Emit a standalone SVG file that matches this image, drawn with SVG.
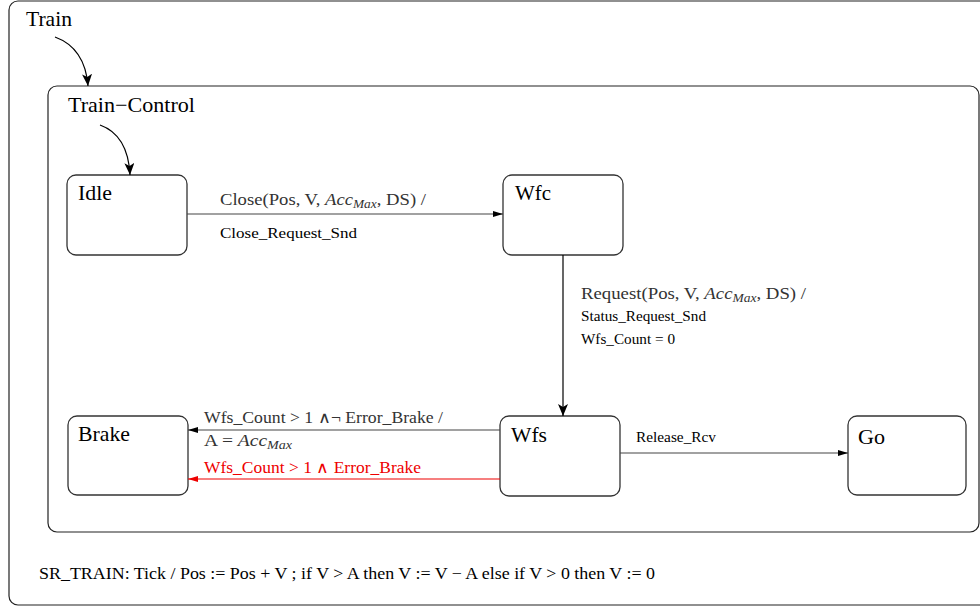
<svg xmlns="http://www.w3.org/2000/svg" width="980" height="607" viewBox="0 0 980 607">
<defs>
<marker id="ah" viewBox="0 0 10 6" refX="10" refY="3" markerWidth="10" markerHeight="6" markerUnits="userSpaceOnUse" orient="auto">
<path d="M0,0 L10,3 L0,6 Z" fill="#000"/>
</marker>
<marker id="ahr" viewBox="0 0 10 6" refX="10" refY="3" markerWidth="10" markerHeight="6" markerUnits="userSpaceOnUse" orient="auto">
<path d="M0,0 L10,3 L0,6 Z" fill="#e00"/>
</marker>
<marker id="ih" viewBox="0 0 12 10" refX="12" refY="5" markerWidth="12" markerHeight="10" markerUnits="userSpaceOnUse" orient="auto">
<path d="M0,0 L12,5 L0,10 L3,5 Z" fill="#000"/>
</marker>
</defs>
<style>
.box{fill:#fff;stroke:#222;stroke-width:1.2}
.st{fill:#fff;stroke:#333;stroke-width:1.3}
.nm{font-family:"Liberation Serif",serif;font-size:21px;fill:#000}
.lb{font-family:"Liberation Serif",serif;font-size:16px;fill:#333}
.sm{font-family:"Liberation Serif",serif;font-size:14.5px;fill:#000}
.ln{fill:none;stroke:#444;stroke-width:1.2}
.red{fill:none;stroke:#e00;stroke-width:1.2}
.ini{fill:none;stroke:#000;stroke-width:1.2}
</style>
<rect width="980" height="607" fill="#fff"/>
<g id="Train">
<rect class="box" x="9" y="1" width="985" height="604" rx="9"/>
<text class="nm" x="26" y="26" textLength="46" lengthAdjust="spacingAndGlyphs">Train</text>
<text class="lb" x="39" y="579" style="fill:#000" textLength="616" lengthAdjust="spacingAndGlyphs">SR_TRAIN: Tick / Pos := Pos + V ; if V &gt; A then V := V − A else if V &gt; 0 then V := 0</text>
</g>
<g id="Train-Control">
<rect class="box" x="48" y="86" width="931" height="446" rx="9"/>
<text class="nm" x="68" y="112" textLength="127" lengthAdjust="spacingAndGlyphs">Train−Control</text>
</g>
<g id="Idle">
<rect class="st" x="67" y="175" width="120" height="80" rx="9"/>
<text class="nm" x="78" y="200" textLength="34" lengthAdjust="spacingAndGlyphs">Idle</text>
</g>
<g id="Wfc">
<rect class="st" x="503" y="175" width="120" height="80" rx="9"/>
<text class="nm" x="515" y="200" textLength="36" lengthAdjust="spacingAndGlyphs">Wfc</text>
</g>
<g id="Wfs">
<rect class="st" x="500" y="416" width="120" height="80" rx="9"/>
<text class="nm" x="511" y="442" textLength="36" lengthAdjust="spacingAndGlyphs">Wfs</text>
</g>
<g id="Brake">
<rect class="st" x="68" y="416" width="120" height="79" rx="9"/>
<text class="nm" x="78" y="441" textLength="52" lengthAdjust="spacingAndGlyphs">Brake</text>
</g>
<g id="Go">
<rect class="st" x="848" y="416" width="118" height="79" rx="9"/>
<text class="nm" x="858" y="444" textLength="27" lengthAdjust="spacingAndGlyphs">Go</text>
</g>
<g id="connectors">
<path class="ini" d="M55,37 Q85,48 88,86" marker-end="url(#ih)"/>
<path class="ini" d="M100,125 Q128,135 130,175" marker-end="url(#ih)"/>
<line class="ln" x1="187" y1="214" x2="503" y2="214" marker-end="url(#ah)"/>
<line class="ln" x1="563" y1="255" x2="563" y2="416" marker-end="url(#ih)" style="stroke:#000"/>
<line class="ln" x1="500" y1="430" x2="188" y2="430" marker-end="url(#ah)"/>
<line class="red" x1="500" y1="479" x2="188" y2="479" marker-end="url(#ahr)"/>
<line class="ln" x1="620" y1="453" x2="848" y2="453" marker-end="url(#ah)"/>
<text class="lb" x="220" y="205" textLength="206" lengthAdjust="spacingAndGlyphs">Close(Pos, V, <tspan font-style="italic">Acc</tspan><tspan font-style="italic" font-size="11.5" dy="3">Max</tspan><tspan dy="-3">, DS)  /</tspan></text>
<text class="sm" x="220" y="238" textLength="137" lengthAdjust="spacingAndGlyphs">Close_Request_Snd</text>
<text class="lb" x="581" y="299" textLength="225" lengthAdjust="spacingAndGlyphs">Request(Pos, V, <tspan font-style="italic">Acc</tspan><tspan font-style="italic" font-size="11.5" dy="3">Max</tspan><tspan dy="-3">, DS)  /</tspan></text>
<text class="sm" x="581" y="321" textLength="125" lengthAdjust="spacingAndGlyphs">Status_Request_Snd</text>
<text class="sm" x="581" y="344" textLength="94" lengthAdjust="spacingAndGlyphs">Wfs_Count = 0</text>
<text class="lb" x="204" y="423" textLength="239" lengthAdjust="spacingAndGlyphs">Wfs_Count &gt; 1 ∧¬ Error_Brake /</text>
<text class="lb" x="204" y="446" textLength="88" lengthAdjust="spacingAndGlyphs">A = <tspan font-style="italic">Acc</tspan><tspan font-style="italic" font-size="11.5" dy="3">Max</tspan></text>
<text class="lb" x="204" y="473" style="fill:#e00" textLength="217" lengthAdjust="spacingAndGlyphs">Wfs_Count &gt; 1 ∧ Error_Brake</text>
<text class="sm" x="636" y="442" textLength="80" lengthAdjust="spacingAndGlyphs">Release_Rcv</text>
</g>
</svg>
